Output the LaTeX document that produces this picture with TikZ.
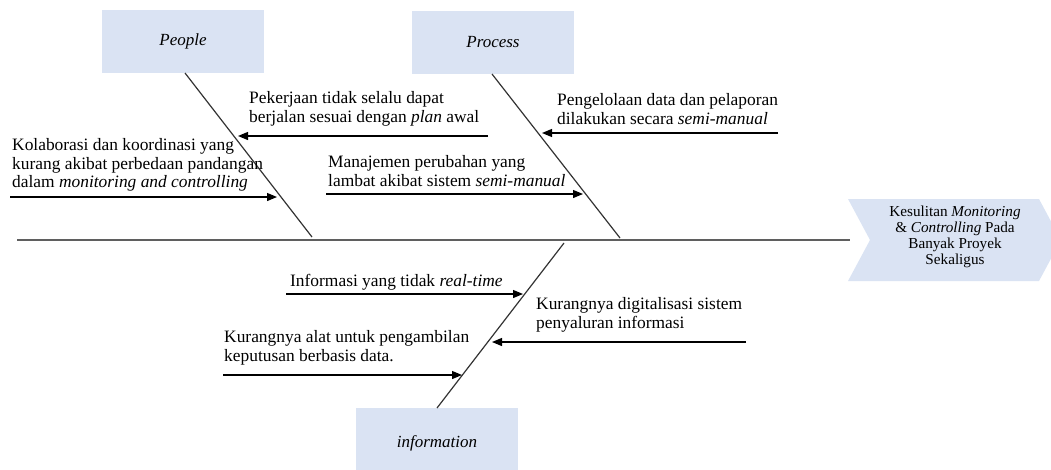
\documentclass[tikz,border=0pt]{standalone}
\usepackage{fontspec}
\setmainfont{Liberation Serif}
\usetikzlibrary{arrows.meta}
\definecolor{boxblue}{HTML}{DAE3F3}
\definecolor{spinegray}{HTML}{5F5F5F}
\definecolor{bonegray}{HTML}{333333}
\begin{document}
\begin{tikzpicture}[x=1pt,y=-1pt,
  catbox/.style={fill=boxblue,draw=none,minimum width=162pt,minimum height=63pt,inner sep=0pt,
    font=\fontsize{17}{19}\selectfont\itshape},
  cause/.style={anchor=west,align=left,inner sep=0pt,font=\fontsize{17.4}{18.8}\selectfont},
  bone/.style={draw=bonegray,line width=1.2pt},
  spine/.style={draw=spinegray,line width=2.5pt},
  causearrow/.style={draw=black,line width=1.2pt,-{Triangle[length=10pt,width=8pt]}}]
\useasboundingbox (0,0) rectangle (1051,469);

% category boxes
\node[catbox] (people) at (183,41.5) {People};
\node[catbox] (process) at (493,42.5) {Process};
\node[catbox,minimum height=70pt] (info) at (437,443) {information};

% effect chevron
\fill[boxblue] (848,199) -- (1039,199) -- (1061,240) -- (1039,281) -- (848,281) -- (870,240) -- cycle;
\node[align=center,inner sep=0pt,font=\fontsize{15.2}{15.8}\selectfont] (effect) at (955,237)
  {Kesulitan \textit{Monitoring}\\\& \textit{Controlling} Pada\\Banyak Proyek\\Sekaligus};

% spine
\coordinate (spineL) at (17,240);
\coordinate (spineR) at (850,240);
\draw[spine] (spineL) -- (spineR);

% bones
\coordinate (pTop) at (185,73);
\coordinate (pBot) at (312,237);
\coordinate (prTop) at (492,74);
\coordinate (prBot) at (620,238);
\coordinate (iTop) at (564,243);
\coordinate (iBot) at (437,408);
\draw[bone] (pTop) -- (pBot);
\draw[bone] (prTop) -- (prBot);
\draw[bone] (iTop) -- (iBot);

% cause texts
\node[cause] (pek) at (249,108.5) {Pekerjaan tidak selalu dapat\\berjalan sesuai dengan \textit{plan} awal};
\node[cause] (kol) at (12,165) {Kolaborasi dan koordinasi yang\\kurang akibat perbedaan pandangan\\dalam \textit{monitoring and controlling}};
\node[cause] (pen) at (557,109) {Pengelolaan data dan pelaporan\\dilakukan secara \textit{semi-manual}};
\node[cause] (man) at (328,171) {Manajemen perubahan yang\\lambat akibat sistem \textit{semi-manual}};
\node[cause] (inf) at (290,282) {Informasi yang tidak \textit{real-time}};
\node[cause] (dig) at (536,315) {Kurangnya digitalisasi sistem\\penyaluran informasi};
\node[cause] (alat) at (224,347.5) {Kurangnya alat untuk pengambilan\\keputusan berbasis data.};

% cause arrows
\coordinate (a1s) at (488,136); \coordinate (a1e) at (238,136);
\coordinate (a2s) at (10,197);  \coordinate (a2e) at (277,197);
\coordinate (a3s) at (778,133); \coordinate (a3e) at (542,133);
\coordinate (a4s) at (326,194); \coordinate (a4e) at (583,194);
\coordinate (a5s) at (286,294); \coordinate (a5e) at (523,294);
\coordinate (a6s) at (746,342); \coordinate (a6e) at (492,342);
\coordinate (a7s) at (223,375); \coordinate (a7e) at (462,375);
\draw[causearrow] (a1s) -- (a1e);
\draw[causearrow] (a2s) -- (a2e);
\draw[causearrow] (a3s) -- (a3e);
\draw[causearrow] (a4s) -- (a4e);
\draw[causearrow] (a5s) -- (a5e);
\draw[causearrow] (a6s) -- (a6e);
\draw[causearrow] (a7s) -- (a7e);
\end{tikzpicture}
\end{document}
